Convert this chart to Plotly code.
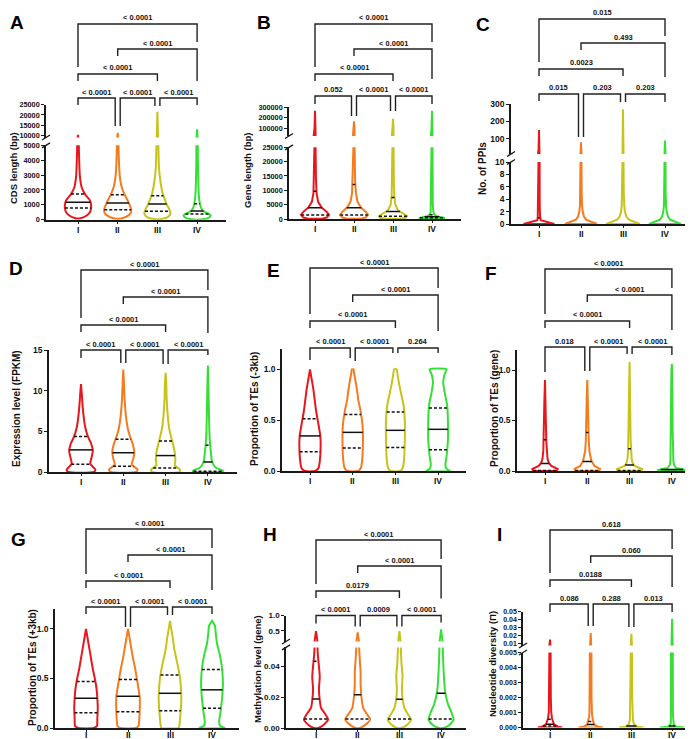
import numpy as np
import plotly.graph_objects as go

W, H = 693, 739
CATS = ["I", "II", "III", "IV"]
COLORS = ["#e8171d", "#f47b20", "#c8c21c", "#35e035"]

# ---------------- A: CDS length ----------------
A_TITLE = "CDS length (bp)"
A_Y = [
    [100, 250, 500, 800, 1000, 1300, 1700, 2200, 3000, 4000, 5000, 8000, 10300],
    [80, 200, 450, 700, 1000, 1300, 1700, 2300, 3000, 4000, 5000, 8000, 11300],
    [50, 150, 400, 700, 1000, 1400, 1800, 2500, 3500, 5000, 10000, 21500],
    [30, 150, 300, 450, 600, 800, 1100, 1600, 2500, 4000, 5000, 9000, 13000],
]
A_W = [
    [0.06, 0.2, 0.3, 0.33, 0.33, 0.3, 0.18, 0.09, 0.045, 0.03, 0.02, 0.015, 0.0],
    [0.08, 0.22, 0.33, 0.34, 0.3, 0.25, 0.17, 0.09, 0.05, 0.03, 0.02, 0.015, 0.0],
    [0.1, 0.25, 0.33, 0.3, 0.24, 0.18, 0.13, 0.08, 0.04, 0.025, 0.015, 0.0],
    [0.15, 0.3, 0.34, 0.25, 0.15, 0.1, 0.07, 0.045, 0.03, 0.02, 0.018, 0.012, 0.0],
]
A_Q1 = [790, 670, 560, 380]
A_MED = [1170, 1115, 1050, 580]
A_Q3 = [1720, 1680, 1610, 1075]
A_P = ["< 0.0001", "< 0.0001", "< 0.0001", "< 0.0001", "< 0.0001", "< 0.0001"]
A_TICKS = [[0, 1000, 2000, 3000, 4000, 5000], [10000, 15000, 20000, 25000]]
A_TICKTEXT = [["0", "1000", "2000", "3000", "4000", "5000"], ["10000", "15000", "20000", "25000"]]

# ---------------- B: Gene length ----------------
B_TITLE = "Gene length (bp)"
B_Y = [
    [50, 500, 1500, 2500, 4000, 6000, 9000, 14000, 25000, 100000, 265000],
    [50, 500, 1500, 2500, 4000, 6000, 9000, 13000, 25000, 100000, 164000],
    [50, 400, 1000, 2000, 3000, 5000, 8000, 12000, 25000, 100000, 189000],
    [30, 200, 500, 1000, 1500, 2500, 5000, 10000, 25000, 100000, 265000],
]
B_W = [
    [0.15, 0.3, 0.36, 0.3, 0.17, 0.08, 0.04, 0.025, 0.015, 0.012, 0.0],
    [0.15, 0.3, 0.36, 0.3, 0.18, 0.09, 0.05, 0.03, 0.015, 0.012, 0.0],
    [0.18, 0.33, 0.36, 0.25, 0.13, 0.06, 0.035, 0.022, 0.015, 0.012, 0.0],
    [0.25, 0.33, 0.3, 0.12, 0.06, 0.035, 0.02, 0.015, 0.013, 0.012, 0.0],
]
B_Q1 = [1400, 1400, 1000, 400]
B_MED = [3900, 3900, 2600, 800]
B_Q3 = [9700, 12000, 7500, 1500]
B_P = ["0.052", "< 0.0001", "< 0.0001", "< 0.0001", "< 0.0001", "< 0.0001"]
B_TICKS = [[0, 5000, 10000, 15000, 20000, 25000], [100000, 200000, 300000]]
B_TICKTEXT = [["0", "5000", "10000", "15000", "20000", "25000"], ["100000", "200000", "300000"]]

# ---------------- C: PPIs ----------------
C_TITLE = "No. of PPIs"
C_Y = [
    [0, 0.25, 0.6, 1.0, 2, 5, 10, 40, 150],
    [0, 0.3, 0.7, 1.2, 2, 3, 5, 10, 80],
    [0, 0.3, 0.7, 1.2, 2, 3, 5, 10, 270],
    [0, 0.3, 0.7, 1.2, 2, 3, 5, 10, 90],
]
C_W = [
    [0.37, 0.25, 0.04, 0.03, 0.02, 0.015, 0.012, 0.01, 0.0],
    [0.38, 0.25, 0.12, 0.07, 0.04, 0.025, 0.015, 0.012, 0.0],
    [0.4, 0.28, 0.14, 0.08, 0.045, 0.03, 0.018, 0.012, 0.0],
    [0.38, 0.25, 0.12, 0.07, 0.04, 0.025, 0.015, 0.012, 0.0],
]
C_Q1 = [None, None, None, None]
C_MED = [1.0, None, None, None]
C_Q3 = [None, None, None, None]
C_P = ["0.015", "0.203", "0.203", "0.0023", "0.493", "0.015"]
C_TICKS = [[0, 2, 4, 6, 8, 10], [100, 200, 300]]
C_TICKTEXT = [["0", "2", "4", "6", "8", "10"], ["100", "200", "300"]]

# ---------------- D: Expression ----------------
D_TITLE = "Expression level (FPKM)"
D_Y = [
    [0, 0.3, 1.0, 1.8, 2.6, 3.5, 4.4, 5.5, 6.5, 8, 9.5, 10.8],
    [0, 0.3, 0.9, 1.7, 2.5, 3.5, 4.5, 5.5, 7, 9, 11, 12.6],
    [0, 0.3, 0.8, 1.5, 2.3, 3.3, 4.3, 5.5, 7, 9, 11, 12.2],
    [0, 0.15, 0.5, 1.0, 1.5, 2.5, 3.5, 5, 7, 10, 13.1],
]
D_W = [
    [0.3, 0.34, 0.22, 0.25, 0.28, 0.24, 0.16, 0.1, 0.07, 0.04, 0.02, 0.0],
    [0.3, 0.34, 0.2, 0.24, 0.26, 0.22, 0.15, 0.1, 0.06, 0.03, 0.015, 0.0],
    [0.32, 0.34, 0.22, 0.23, 0.22, 0.18, 0.13, 0.08, 0.05, 0.025, 0.015, 0.0],
    [0.3, 0.36, 0.2, 0.12, 0.09, 0.07, 0.05, 0.035, 0.025, 0.015, 0.0],
]
D_Q1 = [0.95, 0.72, 0.5, 0.1]
D_MED = [2.72, 2.37, 2.02, 1.23]
D_Q3 = [4.35, 4.02, 3.8, 3.3]
D_P = ["< 0.0001", "< 0.0001", "< 0.0001", "< 0.0001", "< 0.0001", "< 0.0001"]
D_TICKS = [[0, 5, 10, 15]]
D_TICKTEXT = [["0", "5", "10", "15"]]

# ---------------- E: TEs -3kb ----------------
E_TITLE = "Proportion of TEs (-3kb)"
E_Y = [
    [0, 0.03, 0.1, 0.25, 0.35, 0.5, 0.6, 0.7, 0.8, 0.9, 1.0],
    [0, 0.03, 0.1, 0.3, 0.45, 0.6, 0.7, 0.8, 0.9, 0.97, 1.0],
    [0, 0.03, 0.1, 0.3, 0.5, 0.65, 0.75, 0.85, 0.95, 1.0],
    [0, 0.02, 0.06, 0.15, 0.3, 0.5, 0.65, 0.78, 0.87, 0.95, 1.0],
]
E_W = [
    [0.12, 0.2, 0.23, 0.25, 0.24, 0.18, 0.14, 0.11, 0.08, 0.04, 0.0],
    [0.12, 0.19, 0.22, 0.24, 0.23, 0.18, 0.13, 0.1, 0.06, 0.03, 0.02],
    [0.12, 0.17, 0.2, 0.22, 0.22, 0.19, 0.14, 0.09, 0.05, 0.03],
    [0.28, 0.2, 0.17, 0.2, 0.23, 0.23, 0.21, 0.15, 0.12, 0.15, 0.2],
]
E_Q1 = [0.19, 0.225, 0.23, 0.21]
E_MED = [0.345, 0.38, 0.40, 0.41]
E_Q3 = [0.515, 0.555, 0.58, 0.62]
E_P = ["< 0.0001", "< 0.0001", "0.264", "< 0.0001", "< 0.0001", "< 0.0001"]
E_TICKS = [[0, 0.5, 1.0]]
E_TICKTEXT = [["0.0", "0.5", "1.0"]]

# ---------------- F: TEs gene ----------------
F_TITLE = "Proportion of TEs (gene)"
F_Y = [
    [0, 0.02, 0.05, 0.08, 0.12, 0.2, 0.3, 0.5, 0.7, 0.9],
    [0, 0.02, 0.05, 0.1, 0.15, 0.2, 0.3, 0.5, 0.7, 0.9],
    [0, 0.02, 0.05, 0.08, 0.12, 0.2, 0.3, 0.5, 0.8, 1.08],
    [0, 0.01, 0.03, 0.06, 0.1, 0.2, 0.4, 0.7, 1.0, 1.06],
]
F_W = [
    [0.28, 0.3, 0.15, 0.09, 0.06, 0.04, 0.03, 0.02, 0.015, 0.0],
    [0.28, 0.3, 0.17, 0.1, 0.07, 0.05, 0.035, 0.02, 0.015, 0.0],
    [0.28, 0.3, 0.12, 0.07, 0.05, 0.035, 0.025, 0.018, 0.013, 0.0],
    [0.3, 0.32, 0.1, 0.05, 0.035, 0.025, 0.018, 0.014, 0.012, 0.0],
]
F_Q1 = [0.005, 0.005, 0.004, None]
F_MED = [0.075, 0.095, 0.06, 0.015]
F_Q3 = [0.31, 0.38, 0.22, None]
F_P = ["0.018", "< 0.0001", "< 0.0001", "< 0.0001", "< 0.0001", "< 0.0001"]
F_TICKS = [[0, 0.5, 1.0]]
F_TICKTEXT = [["0.0", "0.5", "1.0"]]

# ---------------- G: TEs +3kb ----------------
G_TITLE = "Proportion of TEs (+3kb)"
G_Y = [
    [0, 0.02, 0.1, 0.2, 0.3, 0.4, 0.5, 0.6, 0.7, 0.8, 0.9, 1.0],
    [0, 0.02, 0.1, 0.2, 0.3, 0.4, 0.5, 0.6, 0.7, 0.8, 0.9, 1.0],
    [0, 0.02, 0.1, 0.2, 0.3, 0.4, 0.5, 0.6, 0.7, 0.8, 0.9, 1.0, 1.08],
    [0, 0.02, 0.06, 0.15, 0.3, 0.45, 0.6, 0.75, 0.85, 0.95, 1.03, 1.08],
]
G_W = [
    [0.18, 0.26, 0.27, 0.28, 0.27, 0.25, 0.21, 0.16, 0.12, 0.08, 0.04, 0.0],
    [0.18, 0.25, 0.27, 0.28, 0.28, 0.25, 0.21, 0.17, 0.12, 0.08, 0.04, 0.0],
    [0.2, 0.22, 0.24, 0.26, 0.27, 0.26, 0.24, 0.2, 0.15, 0.1, 0.07, 0.03, 0.0],
    [0.3, 0.2, 0.17, 0.2, 0.24, 0.26, 0.24, 0.18, 0.12, 0.09, 0.07, 0.0],
]
G_Q1 = [0.155, 0.165, 0.175, 0.2]
G_MED = [0.30, 0.32, 0.35, 0.385]
G_Q3 = [0.47, 0.49, 0.535, 0.59]
G_P = ["< 0.0001", "< 0.0001", "< 0.0001", "< 0.0001", "< 0.0001", "< 0.0001"]
G_TICKS = [[0, 0.5, 1.0]]
G_TICKTEXT = [["0.0", "0.5", "1.0"]]

# ---------------- H: Methylation ----------------
H_TITLE = "Methylation level (gene)"
H_Y = [
    [0, 0.002, 0.0055, 0.009, 0.013, 0.018, 0.025, 0.033, 0.04, 0.047, 0.052, 0.2, 0.49],
    [0, 0.002, 0.0055, 0.009, 0.013, 0.02, 0.028, 0.036, 0.044, 0.052, 0.2, 0.45],
    [0, 0.002, 0.0055, 0.009, 0.013, 0.018, 0.025, 0.033, 0.042, 0.052, 0.2, 0.49],
    [0, 0.002, 0.0055, 0.01, 0.015, 0.02, 0.025, 0.032, 0.04, 0.052, 0.2, 0.55],
]
H_W = [
    [0.05, 0.18, 0.29, 0.22, 0.12, 0.09, 0.07, 0.09, 0.07, 0.045, 0.035, 0.03, 0.0],
    [0.05, 0.18, 0.3, 0.22, 0.13, 0.09, 0.07, 0.07, 0.05, 0.035, 0.025, 0.0],
    [0.05, 0.18, 0.28, 0.2, 0.12, 0.08, 0.06, 0.075, 0.05, 0.035, 0.025, 0.0],
    [0.05, 0.2, 0.3, 0.25, 0.17, 0.12, 0.09, 0.07, 0.055, 0.04, 0.03, 0.0],
]
H_Q1 = [0.0058, 0.0058, 0.0058, 0.0058]
H_MED = [0.0187, 0.0215, 0.0185, 0.0225]
H_Q3 = [0.043, None, None, None]
H_P = ["< 0.0001", "0.0009", "< 0.0001", "0.0179", "< 0.0001", "< 0.0001"]
H_TICKS = [[0, 0.02, 0.04], [0.5, 1.0]]
H_TICKTEXT = [["0.00", "0.02", "0.04"], ["0.5", "1.0"]]

# ---------------- I: Nucleotide diversity ----------------
I_TITLE = "Nucleotide diversity (\u03a0)"
I_Y = [
    [0, 0.00005, 0.0002, 0.0004, 0.0006, 0.001, 0.002, 0.005, 0.0075, 0.015],
    [0, 0.00005, 0.0002, 0.0004, 0.0007, 0.001, 0.002, 0.005, 0.0075, 0.023],
    [0, 0.00005, 0.0002, 0.0004, 0.0007, 0.001, 0.002, 0.005, 0.0075, 0.022],
    [0, 0.00005, 0.0002, 0.0004, 0.0007, 0.001, 0.002, 0.005, 0.0075, 0.041],
]
I_W = [
    [0.3, 0.2, 0.1, 0.07, 0.05, 0.03, 0.02, 0.015, 0.015, 0.0],
    [0.3, 0.18, 0.09, 0.06, 0.04, 0.03, 0.02, 0.015, 0.015, 0.0],
    [0.3, 0.15, 0.07, 0.045, 0.035, 0.028, 0.02, 0.015, 0.015, 0.0],
    [0.3, 0.1, 0.04, 0.03, 0.025, 0.02, 0.017, 0.015, 0.015, 0.0],
]
I_Q1 = [0.0001, None, None, None]
I_MED = [0.00022, 0.0002, 0.0001, 0.0001]
I_Q3 = [0.00055, 0.0004, None, None]
I_P = ["0.086", "0.288", "0.013", "0.0188", "0.060", "0.618"]
I_TICKS = [[0, 0.001, 0.002, 0.003, 0.004, 0.005], [0.01, 0.02, 0.03, 0.04, 0.05]]
I_TICKTEXT = [["0.000", "0.001", "0.002", "0.003", "0.004", "0.005"],
              ["0.01", "0.02", "0.03", "0.04", "0.05"]]

DATA = {
    "A": (A_Y, A_W, A_Q1, A_MED, A_Q3, A_P, A_TITLE, A_TICKS, A_TICKTEXT),
    "B": (B_Y, B_W, B_Q1, B_MED, B_Q3, B_P, B_TITLE, B_TICKS, B_TICKTEXT),
    "C": (C_Y, C_W, C_Q1, C_MED, C_Q3, C_P, C_TITLE, C_TICKS, C_TICKTEXT),
    "D": (D_Y, D_W, D_Q1, D_MED, D_Q3, D_P, D_TITLE, D_TICKS, D_TICKTEXT),
    "E": (E_Y, E_W, E_Q1, E_MED, E_Q3, E_P, E_TITLE, E_TICKS, E_TICKTEXT),
    "F": (F_Y, F_W, F_Q1, F_MED, F_Q3, F_P, F_TITLE, F_TICKS, F_TICKTEXT),
    "G": (G_Y, G_W, G_Q1, G_MED, G_Q3, G_P, G_TITLE, G_TICKS, G_TICKTEXT),
    "H": (H_Y, H_W, H_Q1, H_MED, H_Q3, H_P, H_TITLE, H_TICKS, H_TICKTEXT),
    "I": (I_Y, I_W, I_Q1, I_MED, I_Q3, I_P, I_TITLE, I_TICKS, I_TICKTEXT),
}

# ---------------- layout geometry (pixels) and styles ----------------
GEOM = {
    "A": dict(x=(38, 218), cat=(70, 39.7), segs=[(0, 5000, 211.7, 137.3), (9000, 25000, 129.5, 96.7)],
              lv=(90, 66, 41, 16), legs=[7, 28, 28, 8, 8, 7], title=(6, 160), letter=(9, 14),
              smooth=True, tfs=7.3, yts=9.5, catdy=10),
    "B": dict(x=(281, 453), cat=(307, 39.0), segs=[(0, 25000, 211, 139.3), (25000, 300000, 128, 99)],
              lv=(88, 66, 41, 16), legs=[8, 20, 20, 15, 15, 8], title=(239, 163), letter=(256, 14),
              smooth=False, tfs=7.3, yts=9.5, catdy=10),
    "C": dict(x=(503, 686), cat=(531, 42.0), segs=[(0, 10, 216, 154), (12, 300, 146, 96)],
              lv=(86, 61, 35, 11), legs=[7, 43, 43, 8, 8, 8], title=(475, 160), letter=(475, 16),
              smooth=False, tfs=8.5, yts=10, catdy=10),
    "D": dict(x=(41, 229), cat=(73, 42.3), segs=[(0, 15, 464, 342)],
              lv=(342, 317, 289, 262), legs=[8, 13, 13, 14, 14, 5], title=(8, 401), letter=(8, 260),
              smooth=True, tfs=8.5, yts=10, catdy=10),
    "E": dict(x=(274, 458), cat=(302, 42.7), segs=[(0, 1.2, 463, 341)],
              lv=(340, 313, 287, 260), legs=[12, 10, 13, 5, 5, 5], title=(246, 401), letter=(265, 262),
              smooth=True, tfs=8.5, yts=10, catdy=10),
    "F": dict(x=(509, 692), cat=(537, 42.3), segs=[(0, 1.2, 463, 341.8)],
              lv=(339, 313, 287, 261), legs=[25, 24, 24, 7, 7, 8], title=(486, 401), letter=(483, 265),
              smooth=False, tfs=8.5, yts=10, catdy=10),
    "G": dict(x=(47, 231), cat=(78, 42.0), segs=[(0, 1.2, 720, 601)],
              lv=(599, 573, 547, 521), legs=[7, 20, 20, 8, 8, 7], title=(24, 660), letter=(10, 531),
              smooth=True, tfs=8.5, yts=10, catdy=7),
    "H": dict(x=(278, 458), cat=(308, 41.7), segs=[(0, 0.052, 720, 639.4), (0.15, 1.0, 633.5, 607.5)],
              lv=(607.5, 583, 558, 532), legs=[8, 11, 11, 11, 11, 7], title=(249, 661), letter=(262, 526),
              smooth=True, tfs=8, yts=9.5, catdy=7),
    "I": dict(x=(515, 692), cat=(542, 40.7), segs=[(0, 0.005, 719.5, 644.5), (0.0075, 0.05, 637.5, 603.5)],
              lv=(596, 572, 548, 522), legs=[8, 22, 22, 23, 23, 8], title=(484, 656), letter=(491, 526),
              smooth=False, tfs=7, yts=9.5, catdy=7),
}

FONT = "Liberation Sans, Arial, sans-serif"
AXC = "#1a1a1a"


def P(px):
    return px / W


def Q(py):
    return 1 - py / H


fig = go.Figure()
layout = {}
shapes = []
annots = []
xi = 0
yi = 0

for key in ["A", "B", "C", "D", "E", "F", "G", "H", "I"]:
    Ys, Ws, Q1s, MEDs, Q3s, PV, TITLE, TICKS, TICKTEXT = DATA[key]
    g = GEOM[key]
    c0, unit = g["cat"]
    xl_px, xr_px = g["x"]
    xi += 1
    xname = "x" if xi == 1 else f"x{xi}"
    xkey = "xaxis" if xi == 1 else f"xaxis{xi}"
    yrefs = []
    for s, (vmin, vmax, pb, pt) in enumerate(g["segs"]):
        yi += 1
        yname = "y" if yi == 1 else f"y{yi}"
        ykey = "yaxis" if yi == 1 else f"yaxis{yi}"
        yrefs.append(yname)
        layout[ykey] = dict(
            domain=[Q(pb), Q(pt)], range=[vmin, vmax], anchor=xname,
            showline=True, linecolor=AXC, linewidth=1.6, ticks="outside", ticklen=3,
            tickwidth=1.4, tickcolor=AXC, tickvals=TICKS[s], ticktext=TICKTEXT[s],
            tickfont=dict(family=FONT, size=g["tfs"], color="#111", weight="bold"),
            showgrid=False, zeroline=False, fixedrange=True, automargin=False,
        )
    layout[xkey] = dict(
        domain=[P(xl_px), P(xr_px)], range=[(xl_px - c0) / unit, (xr_px - c0) / unit],
        anchor=yrefs[0], showline=True, linecolor=AXC, linewidth=1.6, ticks="outside",
        ticklen=2, tickwidth=1.4, tickcolor=AXC, tickvals=[0, 1, 2, 3], showticklabels=False,
        showgrid=False, zeroline=False, fixedrange=True, automargin=False,
    )
    base_px = g["segs"][0][2]
    for i, cname in enumerate(CATS):
        annots.append(dict(x=i, y=Q(base_px + g["catdy"]), xref=xname, yref="paper", text=cname,
                           showarrow=False, xanchor="center", yanchor="middle", borderpad=0,
                           font=dict(family=FONT, size=8.5, color="#111", weight="bold")))

    # violins
    for i in range(4):
        ys = np.array(Ys[i], dtype=float)
        ws = np.array(Ws[i], dtype=float)
        xs = np.concatenate([i + ws, (i - ws)[::-1], [i + ws[0]]])
        yy = np.concatenate([ys, ys[::-1], [ys[0]]])
        line = dict(color=COLORS[i], width=2)
        if g["smooth"]:
            line.update(shape="spline", smoothing=0.6)
        for yr in yrefs:
            fig.add_trace(go.Scatter(x=xs, y=yy, xaxis=xname, yaxis=yr, mode="lines",
                                     line=line, hoverinfo="skip", showlegend=False))
        for qv, dash in ((Q1s[i], "3px,2px"), (MEDs[i], "solid"), (Q3s[i], "3px,2px")):
            if qv is None:
                continue
            w = float(np.interp(qv, ys, ws))
            for yr in yrefs:
                fig.add_trace(go.Scatter(x=[i - w, i + w], y=[qv, qv], xaxis=xname, yaxis=yr,
                                         mode="lines", line=dict(color="#111", width=1.5, dash=dash),
                                         hoverinfo="skip", showlegend=False))

    # axis break marks
    if len(g["segs"]) == 2:
        for py in (g["segs"][0][3], g["segs"][1][2]):
            shapes.append(dict(type="line", xref="paper", yref="paper",
                               x0=P(xl_px - 4), y0=Q(py + 2.5), x1=P(xl_px + 4), y1=Q(py - 2.5),
                               line=dict(color=AXC, width=1.4)))

    # significance brackets
    L1, L2, L3, L4 = g["lv"]
    off = 2.5 / unit
    br = []
    for n, (i, j) in enumerate([(0, 1), (1, 2), (2, 3)]):
        a = i + (off if i in (1, 2) else 0)
        b = j - (off if j in (1, 2) else 0)
        br.append((a, b, L1, g["legs"][2 * n], g["legs"][2 * n + 1], PV[n]))
    br.append((0, 2, L2, 7, 7, PV[3]))
    br.append((1, 3, L3, 7, (L1 - 17) - L3, PV[4]))
    br.append((0, 3, L4, (L2 - 7) - L4, (L3 - 7) - L4, PV[5]))
    for a, b, lv, ll, lr, txt in br:
        path = (f"M {a},{Q(lv + ll)} L {a},{Q(lv)} L {b},{Q(lv)} L {b},{Q(lv + lr)}")
        shapes.append(dict(type="path", path=path, xref=xname, yref="paper",
                           line=dict(color="#222", width=1.4)))
        annots.append(dict(x=(a + b) / 2, y=Q(lv - 0.5), xref=xname, yref="paper",
                           text=txt, showarrow=False, xanchor="center", yanchor="bottom", borderpad=0,
                           font=dict(family=FONT, size=7.5, color="#111", weight="bold")))

    # y title and panel letter
    tx, ty = g["title"]
    annots.append(dict(x=P(tx), y=Q(ty), xref="paper", yref="paper", text=TITLE,
                       textangle=-90, showarrow=False, xanchor="center", yanchor="middle",
                       font=dict(family=FONT, size=g["yts"], color="#111", weight="bold")))
    lx, ly = g["letter"]
    annots.append(dict(x=P(lx), y=Q(ly), xref="paper", yref="paper", text=key,
                       showarrow=False, xanchor="center", yanchor="middle",
                       font=dict(family=FONT, size=19, color="#000", weight="bold")))

fig.update_layout(
    width=W, height=H, margin=dict(l=0, r=0, t=0, b=0),
    paper_bgcolor="white", plot_bgcolor="rgba(0,0,0,0)",
    showlegend=False, shapes=shapes, annotations=annots, **layout,
)
fig.write_html("out.html")
